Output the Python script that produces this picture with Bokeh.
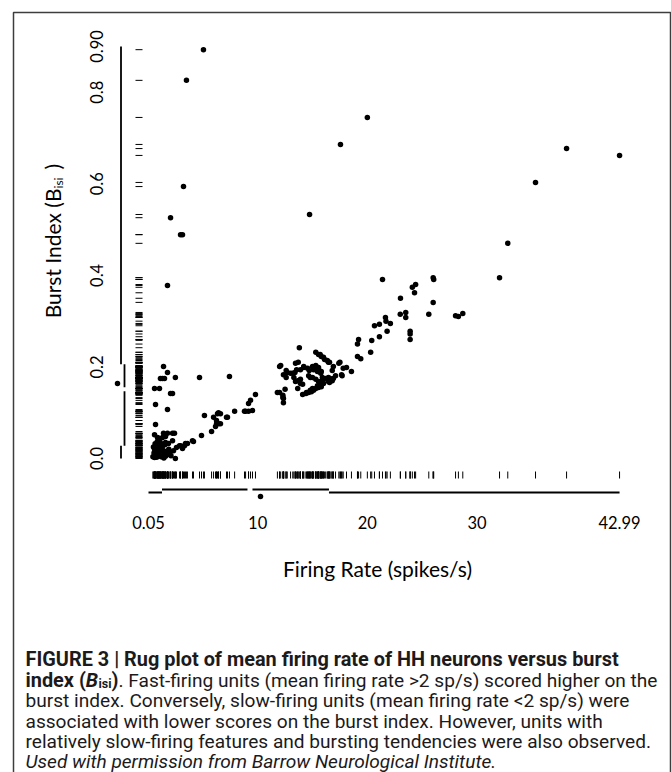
import math

from bokeh.core.properties import value
from bokeh.embed import file_html
from bokeh.models import ColumnDataSource, Range1d
from bokeh.plotting import figure
from bokeh.resources import INLINE

# ---------------------------------------------------------------------------
# Data: mean firing rate (spikes/s) and burst index of each unit
# ---------------------------------------------------------------------------
firing_rate = [
    # sparse high-burst units
    5.06, 3.51, 3.24, 2.06, 2.97, 3.15, 1.78,
    17.55, 20.0, 14.73, 38.16, 42.99, 35.33, 32.8, 32.05,
    21.38, 24.1, 24.4, 24.3, 26.0, 26.05, 23.02, 26.0,
    23.0, 23.5, 23.5, 25.6, 28.04, 28.3, 28.7,
    21.65, 21.7, 22.1, 20.65, 21.1, 23.9, 23.9, 23.9,
    21.8, 21.1, 20.4, 19.2, 19.1, 20.3, 19.1, 19.4,
    18.55, 18.1, 17.8, 17.65, 17.5,
    # 12-18 sp/s cluster
    12.0, 12.6, 12.35, 12.6, 11.8, 12.0, 12.3, 12.35, 12.35,
    13.2, 13.4, 13.55, 13.45, 13.7, 13.8, 13.3, 13.65, 13.9,
    14.1, 14.4, 14.55, 14.8, 15.0,
    15.3, 15.55, 15.8, 16.1, 16.45,
    14.2, 14.55, 15.0, 15.1, 15.3, 15.55, 15.75, 15.9,
    14.65, 15.0, 15.3, 15.45, 15.75, 15.9, 16.2, 16.45, 16.8, 16.9, 17.1, 17.4,
    17.7, 16.9, 16.8, 16.6, 16.7, 16.45, 16.35, 16.55,
    15.8, 15.4, 15.45, 14.8, 15.55, 16.0, 15.8, 15.55, 15.3, 15.1, 14.9, 14.65, 14.45,
    13.45, 13.65, 14.1, 13.0, 12.7, 13.9, 14.2, 14.7, 12.5, 12.3, 12.1, 15.6,
    13.9, 15.7, 16.0, 16.35, 16.55,
    # 2-11 sp/s band
    4.7, 7.43, 9.8, 9.35, 9.17, 9.53, 9.17, 8.9, 8.8, 7.9,
    7.16, 6.61, 6.43, 6.34, 5.98, 6.25, 6.25, 6.16, 6.43, 6.61, 7.25,
    5.8, 5.15, 4.88, 4.15, 4.06, 3.6, 3.42, 3.33, 3.15, 2.88, 2.97, 2.6, 2.5, 2.33,
    # slow units
    1.42, 1.78, 1.14, 1.33, 1.51, 2.5, 0.6, 1.05, 2.06, 2.24,
    0.69, 1.78, 0.69, 0.6, 0.87, 0.96, 1.33, 1.6, 1.42, 1.78, 2.24, 2.42, 2.24, 1.87, 1.6,
    0.45, 0.55, 0.6, 0.7, 0.75, 0.8, 0.85, 0.9, 0.95, 1.0, 1.05, 1.1, 1.15, 1.2,
    1.25, 1.3, 1.35, 1.4, 1.5, 1.55, 1.6, 1.7, 1.8, 1.9, 2.0, 2.1,
    0.5, 0.65, 0.85, 1.0, 1.2, 0.95, 1.1, 0.6, 1.45,
]
burst_index = [
    0.893, 0.826, 0.594, 0.526, 0.489, 0.489, 0.378,
    0.686, 0.745, 0.533, 0.677, 0.662, 0.603, 0.47, 0.395,
    0.391, 0.374, 0.38, 0.362, 0.395, 0.391, 0.35, 0.341,
    0.315, 0.319, 0.308, 0.315, 0.312, 0.31, 0.317,
    0.308, 0.30, 0.295, 0.29, 0.293, 0.278, 0.272, 0.26,
    0.278, 0.266, 0.258, 0.26, 0.25, 0.232, 0.223, 0.218,
    0.19, 0.199, 0.197, 0.183, 0.21,
    0.201, 0.192, 0.183, 0.177, 0.144, 0.144, 0.138, 0.131, 0.122,
    0.186, 0.188, 0.194, 0.208, 0.21, 0.242, 0.177, 0.17, 0.173,
    0.14, 0.142, 0.144, 0.149, 0.153,
    0.232, 0.227, 0.223, 0.216, 0.21,
    0.201, 0.197, 0.201, 0.194, 0.203, 0.199, 0.186, 0.177,
    0.181, 0.177, 0.173, 0.159, 0.164, 0.17, 0.175, 0.177, 0.17, 0.175, 0.181, 0.208,
    0.181, 0.201, 0.192, 0.175, 0.17, 0.168, 0.173, 0.166,
    0.19, 0.199, 0.19, 0.177, 0.168, 0.164, 0.157, 0.155, 0.153, 0.149, 0.146, 0.144, 0.144,
    0.168, 0.153, 0.162, 0.186, 0.188, 0.194, 0.199, 0.192, 0.151, 0.133, 0.203, 0.192,
    0.164, 0.227, 0.221, 0.214, 0.21,
    0.177, 0.179, 0.14, 0.127, 0.12, 0.105, 0.103, 0.103, 0.103, 0.103,
    0.09, 0.098, 0.1, 0.098, 0.09, 0.083, 0.076, 0.07, 0.076, 0.076, 0.09,
    0.059, 0.094, 0.05, 0.037, 0.039, 0.033, 0.033, 0.028, 0.022, 0.028, 0.028, 0.024, 0.0, 0.017,
    0.201, 0.188, 0.175, 0.175, 0.175, 0.177, 0.153, 0.153, 0.142, 0.142,
    0.118, 0.107, 0.074, 0.052, 0.046, 0.044, 0.046, 0.048, 0.055, 0.055, 0.055, 0.055, 0.039, 0.033, 0.035,
    0.004, 0.012, 0.002, 0.008, 0.018, 0.003, 0.012, 0.022, 0.006, 0.015, 0.028, 0.01, 0.02, 0.004,
    0.014, 0.024, 0.008, 0.017, 0.011, 0.03, 0.005, 0.016, 0.009, 0.02, 0.012, 0.006,
    0.025, 0.032, 0.037, 0.04, 0.032, 0.03, 0.036, 0.02, 0.001,
]

# Five-number summaries (plus mean) drawn as range-frame quartile axes
rate_min, rate_q1, rate_median, rate_q3, rate_max, rate_mean = 0.05, 1.28, 9.3, 16.5, 42.99, 10.26
burst_min, burst_q1, burst_median, burst_q3, burst_max, burst_mean = 0.0, 0.028, 0.151, 0.206, 0.90, 0.164

x_ticks = [0.05, 10, 20, 30, 42.99]
x_tick_labels = ["0.05", "10", "20", "30", "42.99"]
y_ticks = [0.0, 0.2, 0.4, 0.6, 0.8, 0.90]
y_tick_labels = ["0.0", "0.2", "0.4", "0.6", "0.8", "0.90"]

caption_bold_1 = "FIGURE 3 | Rug plot of mean firing rate of HH neurons versus burst"
caption_rest_2 = ". Fast-firing units (mean firing rate >2 sp/s) scored higher on the"
caption_plain = [
    "burst index. Conversely, slow-firing units (mean firing rate <2 sp/s) were",
    "associated with lower scores on the burst index. However, units with",
    "relatively slow-firing features and bursting tendencies were also observed.",
]
caption_credit = "Used with permission from Barrow Neurological Institute."

# ---------------------------------------------------------------------------
# Page geometry
# ---------------------------------------------------------------------------
W, H = 671, 772
X0_PX, X_PER_UNIT = 148.0, 10.97     # where firing rate 0.05 sits, px per spike/s
Y0_PX, Y_PER_UNIT = 458.0, 457.8     # where burst index 0 sits, px per unit

x_range = Range1d(rate_min - X0_PX / X_PER_UNIT, rate_min + (W - X0_PX) / X_PER_UNIT)
y_range = Range1d(-(H - Y0_PX) / Y_PER_UNIT, Y0_PX / Y_PER_UNIT)

p = figure(
    width=W, height=H, x_range=x_range, y_range=y_range,
    x_axis_type=None, y_axis_type=None,
    output_backend="svg", toolbar_location=None, min_border=0,
    outline_line_color=None, background_fill_color="white", border_fill_color="white",
)
# a page coordinate system (pixels, y downwards) for the surrounding layout
p.extra_x_ranges = {"page": Range1d(0, W)}
p.extra_y_ranges = {"page": Range1d(H, 0)}

INK = "black"
GILL = value("Lato")
CAP = value("Roboto")
CAP_INK = "#1c1a1b"

# outer figure frame
p.quad(left=13, right=670, top=12, bottom=H + 20, fill_color=None,
       line_color="#3d3d3d", line_width=1.5,
       x_range_name="page", y_range_name="page")

# scatter of the units
src = ColumnDataSource(dict(rate=firing_rate, burst=burst_index))
p.scatter("rate", "burst", source=src, size=5.5, color=INK, line_width=0)

# rugs along both margins
p.segment(x0="rate", x1="rate", y0=471, y1=478, source=src,
          line_color=INK, line_width=1, y_range_name="page")
p.segment(x0=135, x1=142, y0="burst", y1="burst", source=src,
          line_color=INK, line_width=1, x_range_name="page")

# quartile range-frame axes: middle half offset toward the data, gap at median
gx = 2.5 / X_PER_UNIT
gy = 2.0 / Y_PER_UNIT
x_parts = [(rate_min, rate_q1, 492), (rate_q1, rate_median - gx, 489),
           (rate_median + gx, rate_q3, 489), (rate_q3, rate_max, 492)]
p.segment(x0=[a for a, _, _ in x_parts], x1=[b for _, b, _ in x_parts],
          y0=[c for _, _, c in x_parts], y1=[c for _, _, c in x_parts],
          line_color=INK, line_width=1.8, y_range_name="page")
p.scatter(x=[rate_mean], y=[496], size=5.5, color=INK, line_width=0, y_range_name="page")

y_parts = [(burst_max, burst_q3, 120.5), (burst_q3, burst_median + gy, 124),
           (burst_median - gy, burst_q1, 124), (burst_q1, burst_min, 120.5)]
p.segment(y0=[a for a, _, _ in y_parts], y1=[b for _, b, _ in y_parts],
          x0=[c for _, _, c in y_parts], x1=[c for _, _, c in y_parts],
          line_color=INK, line_width=1.8, x_range_name="page")
p.scatter(x=[117], y=[burst_mean], size=5.5, color=INK, line_width=0, x_range_name="page")

# tick labels
p.text(x=x_ticks, y=522, text=x_tick_labels, y_range_name="page",
       text_font=GILL, text_font_size="16.5px", text_align="center",
       text_baseline="middle", text_color=INK)
p.text(x=96, y=y_ticks, text=y_tick_labels, x_range_name="page", angle=math.pi / 2,
       text_font=GILL, text_font_size="16.5px", text_align="center",
       text_baseline="middle", text_color=INK)

# axis titles
p.text(x=377, y=568, text=["Firing Rate (spikes/s)"], x_range_name="page", y_range_name="page",
       text_font=GILL, text_font_size="21px", text_align="center", text_baseline="middle",
       text_color=INK)
p.text(x=52, y=188, text=["Burst Index (B"], x_range_name="page", y_range_name="page",
       angle=math.pi / 2, text_font=GILL, text_font_size="21px", text_align="right",
       text_baseline="alphabetic", text_color=INK)
p.text(x=58, y=188, text=["isi"], x_range_name="page", y_range_name="page",
       angle=math.pi / 2, text_font=GILL, text_font_size="12px", text_align="left",
       text_baseline="alphabetic", text_color=INK)
p.text(x=52, y=169, text=[")"], x_range_name="page", y_range_name="page",
       angle=math.pi / 2, text_font=GILL, text_font_size="21px", text_align="left",
       text_baseline="alphabetic", text_color=INK)

# caption
CAP_X = 25
baselines = [659, 679.5, 700, 720.5, 741, 761]
cap_kw = dict(x_range_name="page", y_range_name="page", text_font=CAP,
              text_font_size="19.1px", text_baseline="alphabetic", text_align="left",
              text_color=CAP_INK)
bold_kw = {**cap_kw, "text_font_size": "19.9px", "text_font_style": "bold"}
p.text(x=CAP_X, y=baselines[0], text=[caption_bold_1], **bold_kw)
p.text(x=CAP_X, y=baselines[1], text=["index ("], **bold_kw)
p.text(x=85.3, y=baselines[1], text=["B"], **{**bold_kw, "text_font_style": "bold italic"})
p.text(x=98.0, y=baselines[1] + 3.5, text=["isi"], **{**bold_kw, "text_font_size": "12.5px"})
p.text(x=111.0, y=baselines[1], text=[")"], **bold_kw)
p.text(x=118.0, y=baselines[1], text=[caption_rest_2], **cap_kw)
p.text(x=CAP_X, y=baselines[2:5], text=caption_plain, **cap_kw)
p.text(x=CAP_X, y=baselines[5], text=[caption_credit], text_font_style="italic", **cap_kw)

open("out.html", "w").write(file_html(p, INLINE))
